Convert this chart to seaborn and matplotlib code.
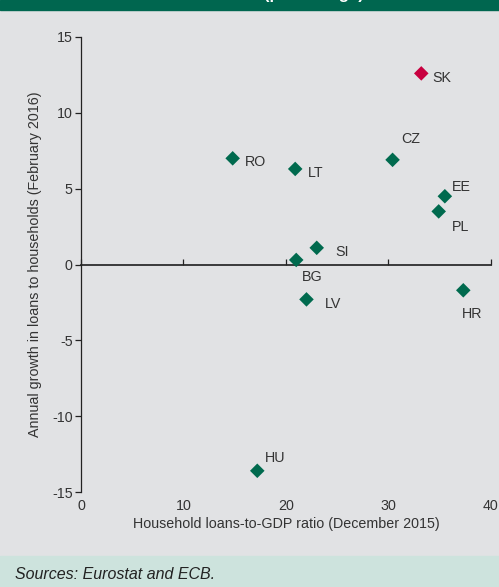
import numpy as np
import pandas as pd
import matplotlib
matplotlib.use('Agg')
import matplotlib.pyplot as plt
import seaborn as sns
from matplotlib import font_manager

# data
countries = ['SK', 'CZ', 'RO', 'LT', 'EE', 'PL', 'SI', 'BG', 'LV', 'HR', 'HU']
loans_to_gdp = [33.2, 30.4, 14.8, 20.9, 35.5, 34.9, 23.0, 21.0, 22.0, 37.3, 17.2]
loan_growth = [12.6, 6.9, 7.0, 6.3, 4.5, 3.5, 1.1, 0.3, -2.3, -1.7, -13.6]
highlight = ['SK']

# label centre offsets in points (dx, dy)
label_offsets = {
    'SK': (15, -3), 'CZ': (13, 15), 'RO': (16.5, -3), 'LT': (15, -3),
    'EE': (12, 6.5), 'PL': (16, -11.5), 'SI': (18, -3), 'BG': (11.5, -12),
    'LV': (19, -3), 'HR': (6.5, -17), 'HU': (13, 9.5),
}

bg = '#E1E2E4'
green = '#006A4E'
red = '#C8003F'
text_col = '#333333'
fs = 10.3

sns.set_theme(style='white')
names = [f.name for f in font_manager.fontManager.ttflist]
main_font = 'Liberation Sans Narrow' if 'Liberation Sans Narrow' in names else 'Liberation Sans'
plt.rcParams['font.family'] = [main_font, 'DejaVu Sans']

df = pd.DataFrame({'country': countries, 'ratio': loans_to_gdp, 'growth': loan_growth})
df['group'] = np.where(df['country'].isin(highlight), 'hl', 'base')

fig = plt.figure(figsize=(4.99, 5.87), dpi=100, facecolor=bg)
ax = fig.add_axes([0.1623, 0.1618, 0.8216, 0.7752])
ax.set_facecolor(bg)

sns.scatterplot(data=df, x='ratio', y='growth', hue='group', palette={'base': green, 'hl': red},
                marker='D', s=55, edgecolor='none', legend=False, ax=ax, zorder=3)

for _, r in df.iterrows():
    dx, dy = label_offsets[r['country']]
    ax.annotate(r['country'], (r['ratio'], r['growth']), xytext=(dx, dy), textcoords='offset points',
                ha='center', va='center', fontsize=fs, color=text_col)

ax.set_xlim(0, 40)
ax.set_ylim(-15, 15)
ax.set_xticks([0, 10, 20, 30, 40])
ax.set_yticks([-15, -10, -5, 0, 5, 10, 15])
ax.set_yticklabels(['-15', '-10', '-5', '0', '5', '10', '15'])

for side in ['top', 'right', 'bottom']:
    ax.spines[side].set_visible(False)
ax.spines['left'].set_color('#222222')
ax.spines['left'].set_linewidth(0.9)
ax.tick_params(axis='y', direction='out', length=4, width=0.9, color='#222222',
               labelsize=fs, labelcolor=text_col, pad=2, left=True)
ax.tick_params(axis='x', length=0, labelsize=fs, labelcolor=text_col, pad=5, bottom=True)

# zero line with tick marks
zero_ax = ax.secondary_xaxis(0.5)
zero_ax.set_xticks([0, 10, 20, 30, 40])
zero_ax.tick_params(axis='x', direction='out', length=4, width=0.9, color='#222222',
                    labelbottom=False, labeltop=False)
zero_ax.spines['bottom'].set_color('#222222')
zero_ax.spines['bottom'].set_linewidth(0.9)

ax.set_xlabel('Household loans-to-GDP ratio (December 2015)', fontsize=fs, color=text_col, labelpad=3)
ax.set_ylabel('Annual growth in loans to households (February 2016)', fontsize=fs, color=text_col, labelpad=7)

# header band, only the bottom of the title shows as in the reference
fig.patches.append(plt.Rectangle((0, 0.983), 1, 0.017, transform=fig.transFigure, color='#00664F', zorder=0))
fig.text(0.49, 1.0025, 'Household loans (percentage)', ha='center', va='baseline', color='white',
         fontsize=12, fontweight='bold')

# footer
fig.patches.append(plt.Rectangle((0, 0), 1, 0.0528, transform=fig.transFigure, color='#CDE3DD', zorder=0))
fig.text(0.03, 0.021, 'Sources: Eurostat and ECB.', ha='left', va='center', fontsize=11.5,
         style='italic', color='#222222')

fig.savefig('out.png', dpi=100, facecolor=bg)
